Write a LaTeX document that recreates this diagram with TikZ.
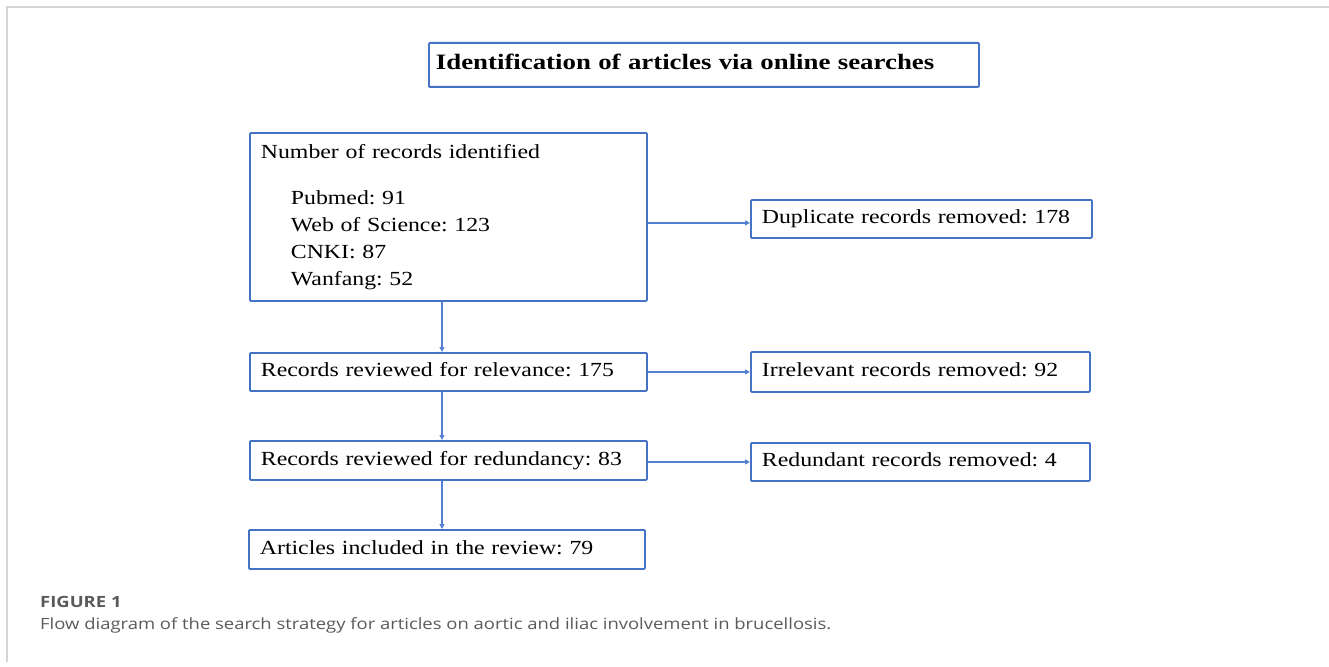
\documentclass[tikz,border=0pt]{standalone}
\usepackage{fontspec}
\setmainfont{Liberation Serif}[FakeStretch=1.19]
\newfontfamily\titlefont{Liberation Serif}[FakeStretch=1.22]
\newfontfamily\capfont{Open Sans}[FakeStretch=1.19]
\usetikzlibrary{arrows.meta,calc}
\definecolor{boxblue}{RGB}{68,114,196}
\definecolor{linkblue}{RGB}{84,128,212}
\definecolor{capgray}{RGB}{90,90,90}
\definecolor{framegray}{RGB}{212,212,212}
\frenchspacing
\begin{document}
\begin{tikzpicture}[x=1pt,y=-1pt,
  box/.style={draw=boxblue,line width=1.8pt,rounded corners=1pt,inner xsep=11pt,inner ysep=0pt,
    align=left,anchor=north west,font=\fontsize{20}{27}\selectfont},
  oneline/.style={box,text height=14pt,text depth=4.5pt},
  arr/.style={draw=linkblue,line width=1.3pt,-{Triangle[length=5pt,width=5pt]}},
  captext/.style={anchor=base west,inner sep=0pt,text=capgray,font=\capfont\fontsize{15.5}{18}\selectfont}]
\useasboundingbox (0,0) rectangle (1329,666);
\draw[framegray,line width=2pt] (7,662) -- (7,7) -- (1329,7);
\node[oneline,font=\titlefont\bfseries\fontsize{22}{24}\selectfont,inner xsep=7pt,text width=536,minimum height=44] (title) at (428,42) {Identification of articles via online searches};
\node[box,text width=375,minimum height=168] (b1) at (249,132) {Number of records identified\\[19pt]
\hspace*{30pt}Pubmed: 91\\
\hspace*{30pt}Web of Science: 123\\
\hspace*{30pt}CNKI: 87\\
\hspace*{30pt}Wanfang: 52};
\node[oneline,text width=375,minimum height=38] (b2) at (249,352) {Records reviewed for relevance: 175};
\node[oneline,text width=375,minimum height=39] (b3) at (249,440) {Records reviewed for redundancy: 83};
\node[oneline,text width=374,minimum height=39] (b4) at (248,529) {Articles included in the review: 79};
\node[oneline,text width=319,minimum height=38] (dup) at (750,199) {Duplicate records removed: 178};
\node[oneline,text width=317,minimum height=40] (irr) at (750,351) {Irrelevant records removed: 92};
\node[oneline,text width=317,minimum height=38] (red) at (750,442) {Redundant records removed: 4};
\coordinate (cx) at (442,0);
\draw[arr] (b1.south -| cx) -- (b2.north -| cx);
\draw[arr] (b2.south -| cx) -- (b3.north -| cx);
\draw[arr] (b3.south -| cx) -- (b4.north -| cx);
\draw[arr] ([yshift=-4pt]dup.west -| b1.east) -- ([yshift=-4pt]dup.west);
\draw[arr] (irr.west -| b2.east) -- (irr.west);
\draw[arr] (red.west -| b3.east) -- (red.west);
\node[captext,font=\capfont\bfseries\fontsize{15.5}{18}\selectfont] (fig) at (40,607) {FIGURE 1};
\node[captext] (cap) at (40,629) {Flow diagram of the search strategy for articles on aortic and iliac involvement in brucellosis.};
\end{tikzpicture}
\end{document}
